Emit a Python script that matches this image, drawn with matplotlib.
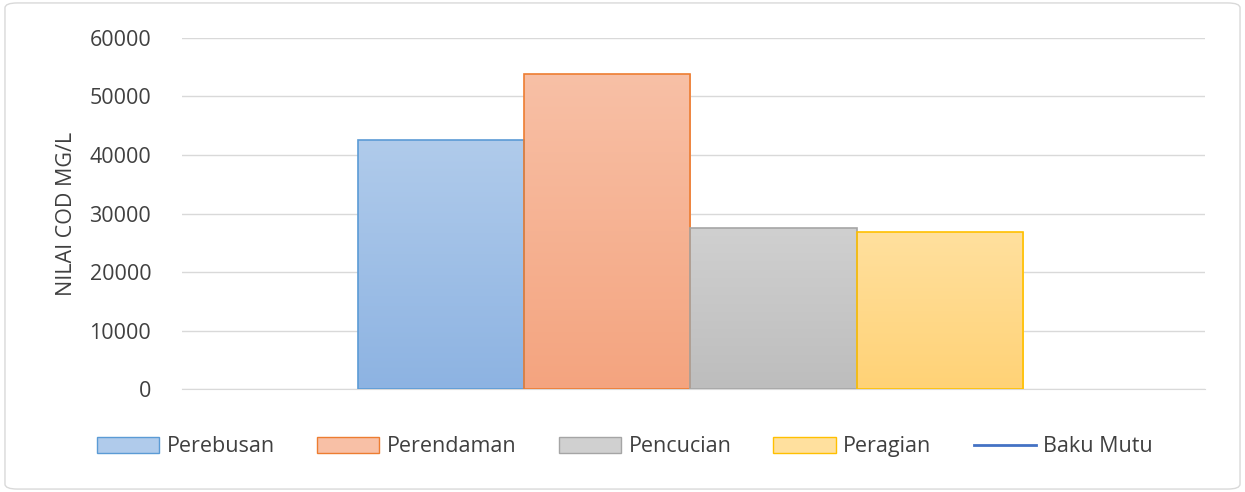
import numpy as np
import matplotlib
matplotlib.use('Agg')
import matplotlib.pyplot as plt
from matplotlib.patches import Patch, FancyBboxPatch
from matplotlib.lines import Line2D
from matplotlib.colors import LinearSegmentedColormap

series = ['Perebusan', 'Perendaman', 'Pencucian', 'Peragian']
values = [42500, 53900, 27500, 26800]
baku_mutu_label = 'Baku Mutu'
y_ticks = [0, 10000, 20000, 30000, 40000, 50000, 60000]

top_colors = ['#b0cbeb', '#f8c0a6', '#d0d0d0', '#ffe09e']
bottom_colors = ['#8db3e2', '#f4a47f', '#bdbdbd', '#ffd276']
edge_colors = ['#5b9bd5', '#ed7d31', '#a5a5a5', '#ffc000']

plt.rcParams['font.family'] = ['Open Sans', 'DejaVu Sans']
FS = 15.5

fig = plt.figure(figsize=(12.45, 4.92), dpi=100)
fig.patches.append(FancyBboxPatch((0.004, 0.006), 0.992, 0.988,
                                  boxstyle='round,pad=0,rounding_size=0.01',
                                  transform=fig.transFigure, fc='white',
                                  ec='#d9d9d9', lw=1.0, zorder=-1))
ax = fig.add_axes([0.146, 0.209, 0.822, 0.714])

n = len(series)
group_w = 0.65
w = group_w / n
xs = np.arange(n) * w - group_w / 2 + w / 2

for i in range(n):
    bars = ax.bar(xs[i], values[i], width=w, color='none',
                  edgecolor=edge_colors[i], linewidth=1.2, zorder=3)
    b = bars[0]
    cmap = LinearSegmentedColormap.from_list('g', [bottom_colors[i], top_colors[i]])
    grad = np.linspace(0, 1, 256).reshape(-1, 1)
    x0, y0 = b.get_x(), b.get_y()
    img = ax.imshow(grad, cmap=cmap, aspect='auto', origin='lower',
                    extent=[x0, x0 + b.get_width(), y0, y0 + b.get_height()],
                    zorder=2)
    img.set_clip_path(b)

ax.set_xlim(-0.497, 0.503)
ax.set_ylim(0, 60000)
ax.set_yticks(y_ticks)
ax.set_yticklabels([str(t) for t in y_ticks], fontsize=FS, color='#404040')
ax.set_xticks([])
ax.grid(axis='y', color='#d9d9d9', linewidth=1.0, zorder=0)
ax.set_axisbelow(True)
for s in ['top', 'right', 'left']:
    ax.spines[s].set_visible(False)
ax.spines['bottom'].set_color('#d9d9d9')
ax.tick_params(axis='y', length=0, pad=22)
ax.set_ylabel('NILAI COD MG/L', fontsize=FS, color='#404040', labelpad=9)

handles = [Patch(facecolor=top_colors[i], edgecolor=edge_colors[i], label=series[i])
           for i in range(n)]
handles.append(Line2D([], [], color='#4472c4', lw=2, label=baku_mutu_label))
fig.legend(handles=handles, loc='center', bbox_to_anchor=(0.502, 0.092), ncol=5,
           frameon=False, fontsize=FS, handlelength=2.9, handleheight=0.75,
           columnspacing=1.95, handletextpad=0.35, labelcolor='#404040')

fig.savefig('out.png', dpi=100)
